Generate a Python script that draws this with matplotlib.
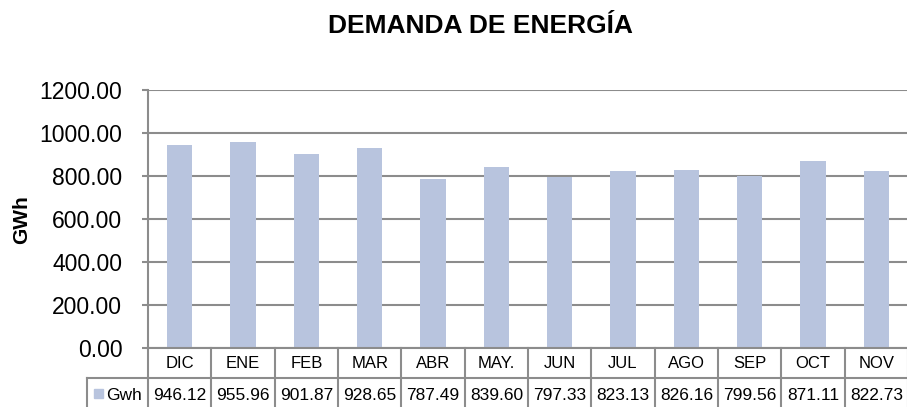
import matplotlib.pyplot as plt
from matplotlib.transforms import blended_transform_factory
from matplotlib.patches import Rectangle

# Datos
meses = ['DIC', 'ENE', 'FEB', 'MAR', 'ABR', 'MAY.', 'JUN', 'JUL', 'AGO', 'SEP', 'OCT', 'NOV']
gwh = [946.12, 955.96, 901.87, 928.65, 787.49, 839.60, 797.33, 823.13, 826.16, 799.56, 871.11, 822.73]
yticks = [0, 200, 400, 600, 800, 1000, 1200]

plt.rcParams['font.family'] = ['Liberation Sans', 'DejaVu Sans']
color_barra = '#B8C4DE'
color_linea = '#8C8C8C'

W, H = 907, 407
fig = plt.figure(figsize=(W / 100, H / 100), dpi=100)
x0, x1, ytop, ybot = 148, 908, 90, 348
ax = fig.add_axes([x0 / W, (H - ybot) / H, (x1 - x0) / W, (ybot - ytop) / H])

x = list(range(len(meses)))
ax.bar(x, gwh, width=0.4, color=color_barra, zorder=3)
ax.set_xlim(-0.5, len(meses) - 0.5)
ax.set_ylim(0, 1200)
ax.set_yticks(yticks)
ax.set_yticklabels([f'{v:.2f}' for v in yticks], fontsize=16.5)
ax.set_xticks([])
ax.grid(axis='y', color=color_linea, linewidth=1.5, zorder=0)
for s in ['top', 'right', 'bottom']:
    ax.spines[s].set_visible(False)
ax.spines['left'].set_color(color_linea)
ax.spines['left'].set_linewidth(1.5)
ax.tick_params(axis='y', length=4.5, width=1.5, color=color_linea, pad=14)
ax.axhline(0, color=color_linea, linewidth=1.5, zorder=4, clip_on=False)

fig.text(22 / W, 1 - 220 / H, 'GWh', ha='center', va='center', rotation=90,
         fontsize=15, fontweight='bold')
fig.text(480 / W, 1 - 26 / H, 'DEMANDA DE ENERGÍA', ha='center', va='center',
         fontsize=19, fontweight='bold')

# Tabla de datos bajo el eje
trans = blended_transform_factory(ax.transData, ax.transAxes)
alto = ybot - ytop
fila = 30 / alto
lw = 1.5
for i, m in enumerate(meses):
    ax.text(i, -15 / alto, m, transform=trans, ha='center', va='center', fontsize=12)
    ax.text(i, -48 / alto, f'{gwh[i]:.2f}', transform=trans, ha='center', va='center', fontsize=12.5)
for i in range(len(meses) + 1):
    ax.plot([i - 0.5, i - 0.5], [0, -2.5 * fila], transform=trans, color=color_linea,
            linewidth=lw, clip_on=False)
ax.plot([-0.5, len(meses) - 0.5], [-fila, -fila], transform=trans, color=color_linea,
        linewidth=lw, clip_on=False)

# celda de leyenda
xl = ax.transData.inverted().transform((87, 0))[0]
ax.plot([xl, -0.5], [-fila, -fila], transform=trans, color=color_linea, linewidth=lw, clip_on=False)
ax.plot([xl, xl], [-fila, -2.5 * fila], transform=trans, color=color_linea, linewidth=lw, clip_on=False)
fig.patches.append(Rectangle((94 / W, 1 - 398 / H), 9 / W, 9 / H, transform=fig.transFigure,
                             color=color_barra))
fig.text(106 / W, 1 - 396 / H, 'Gwh', ha='left', va='center', fontsize=12.5)

plt.savefig('out.png', dpi=100)
